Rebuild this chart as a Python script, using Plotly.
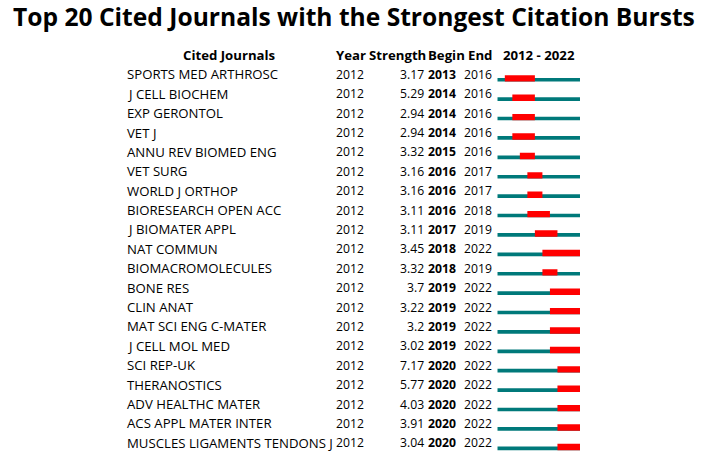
import plotly.graph_objects as go

journals = ["SPORTS MED ARTHROSC", "J CELL BIOCHEM", "EXP GERONTOL", "VET J",
            "ANNU REV BIOMED ENG", "VET SURG", "WORLD J ORTHOP", "BIORESEARCH OPEN ACC",
            "J BIOMATER APPL", "NAT COMMUN", "BIOMACROMOLECULES", "BONE RES",
            "CLIN ANAT", "MAT SCI ENG C-MATER", "J CELL MOL MED", "SCI REP-UK",
            "THERANOSTICS", "ADV HEALTHC MATER", "ACS APPL MATER INTER",
            "MUSCLES LIGAMENTS TENDONS J"]
years = [2012] * 20
strength = ["3.17", "5.29", "2.94", "2.94", "3.32", "3.16", "3.16", "3.11", "3.11", "3.45",
            "3.32", "3.7", "3.22", "3.2", "3.02", "7.17", "5.77", "4.03", "3.91", "3.04"]
begin = [2013, 2014, 2014, 2014, 2015, 2016, 2016, 2016, 2017, 2018,
         2018, 2019, 2019, 2019, 2019, 2020, 2020, 2020, 2020, 2020]
end = [2016, 2016, 2016, 2016, 2016, 2017, 2017, 2018, 2019, 2022,
       2019, 2022, 2022, 2022, 2022, 2022, 2022, 2022, 2022, 2022]
span_start, span_end = 2012, 2022
headers = ["Cited Journals", "Year", "Strength", "Begin", "End", "2012 - 2022"]
title = "Top 20 Cited Journals with the Strongest Citation Bursts"

W, H = 706, 452
TEAL = "#00797A"
RED = "#FF0000"
FONT = "Open Sans"
FS = 13.2
FSN = 12.2

fig = go.Figure()
# background span bars
fig.add_trace(go.Bar(
    y=journals, x=[span_end + 1 - span_start] * len(journals), base=[span_start] * len(journals),
    orientation="h", marker=dict(color=TEAL, line=dict(width=0)),
    width=0.19, offset=0.185, xaxis="x", yaxis="y", hoverinfo="skip", showlegend=False))
# burst bars
fig.add_trace(go.Bar(
    y=journals, x=[e + 1 - b for b, e in zip(begin, end)], base=begin,
    orientation="h", marker=dict(color=RED, line=dict(width=0)),
    width=0.33, offset=0.045, xaxis="x", yaxis="y", hoverinfo="skip", showlegend=False))


def px(x):
    return x / W


def py(y):
    return 1 - y / H


ann = []
font = dict(family=FONT, size=FS, color="#000000")
nfont = dict(family=FONT, size=FSN, color="#000000")
common = dict(xref="paper", showarrow=False, borderpad=0, borderwidth=0, yanchor="middle")
for i, j in enumerate(journals):
    ann.append(dict(x=px(126.5), y=j, yref="y", text=j, xanchor="left", font=font, **common))
    ann.append(dict(x=px(336), y=j, yref="y", text=str(years[i]), xanchor="left", font=nfont, **common))
    ann.append(dict(x=px(424), y=j, yref="y", text=strength[i], xanchor="right", font=nfont, **common))
    ann.append(dict(x=px(428), y=j, yref="y", text="<b>%d</b>" % begin[i], xanchor="left",
                    font=nfont, **common))
    ann.append(dict(x=px(464), y=j, yref="y", text=str(end[i]), xanchor="left", font=nfont, **common))

hx = [(229.5, "center"), (336, "left"), (369, "left"), (428, "left"), (468, "left"), (502.5, "left")]
for (x, anc), t in zip(hx, headers):
    ann.append(dict(x=px(x), y=py(55), yref="paper", text="<b>%s</b>" % t,
                    xanchor=anc, font=font, **common))

ann.append(dict(x=px(354), y=py(16), yref="paper", text="<b>%s</b>" % title,
                xanchor="center", font=dict(family=FONT, size=24.6, color="#000000"), **common))

fig.update_layout(
    width=W, height=H, margin=dict(l=0, r=0, t=0, b=0),
    paper_bgcolor="white", plot_bgcolor="rgba(0,0,0,0)",
    barmode="overlay", annotations=ann, showlegend=False,
    xaxis=dict(domain=[497.3 / W, 580 / W], range=[span_start, span_end + 1], visible=False,
               fixedrange=True),
    yaxis=dict(type="category", categoryorder="array", categoryarray=journals,
               range=[19.47, -3.83], visible=False, fixedrange=True),
)

fig.write_html("out.html", config={"displayModeBar": False},
               post_script="document.body.style.margin='0';document.body.style.overflow='hidden';")
